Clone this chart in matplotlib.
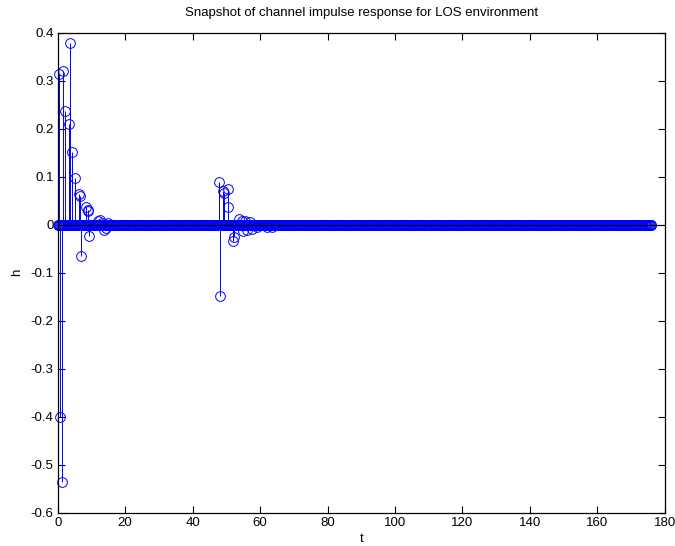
import numpy as np
from matplotlib import pyplot as plt

plt.rcParams['font.family'] = ['Liberation Sans', 'DejaVu Sans']
plt.rcParams['axes.unicode_minus'] = False

# sample grid of the snapshot (all taps zero except the ones listed below)
t_grid = np.arange(0, 176.25, 0.25)
h_grid = np.zeros_like(t_grid)

# non-zero taps
tap_t = [0.4, 0.7, 1.2, 1.6, 2.2, 3.4, 3.6, 4.2, 5.0, 6.3, 6.6, 6.8,
         8.3, 8.9, 9.1, 9.3, 12.0, 12.5, 13.0, 13.6, 14.2, 15.0,
         47.9, 48.1, 48.9, 49.2, 50.4, 50.5, 52.1, 52.3, 53.8, 54.5,
         55.0, 55.6, 56.2, 57.0, 57.6, 59.0, 62.0, 63.5]
tap_h = [0.315, -0.400, -0.537, 0.321, 0.236, 0.210, 0.378, 0.152, 0.097, 0.063, 0.060, -0.065,
         0.036, 0.028, 0.031, -0.024, 0.008, 0.010, 0.004, -0.012, -0.006, 0.003,
         0.088, -0.149, 0.070, 0.066, 0.075, 0.037, -0.033, -0.026, 0.011, 0.008,
         -0.014, 0.007, -0.012, 0.006, -0.008, -0.005, -0.005, -0.004]

t = np.concatenate([t_grid, tap_t])
h = np.concatenate([h_grid, tap_h])

fig = plt.figure(figsize=(6.75, 5.46), dpi=100)
ax = fig.add_axes([0.0855, 0.061, 0.8995, 0.879])

markers, stems, base = ax.stem(t, h, linefmt='b-', markerfmt='bo', basefmt='k-')
plt.setp(stems, linewidth=0.7, color=(0, 0, 1))
plt.setp(markers, markersize=7, markerfacecolor='none', markeredgecolor=(0, 0, 1),
         markeredgewidth=0.7, clip_on=False)
base.set_visible(False)
ax.axhline(0, color='black', linewidth=0.8, zorder=5)

ax.set_xlim(0, 180)
ax.set_ylim(-0.6, 0.4)
ax.set_xticks(np.arange(0, 181, 20))
ax.set_yticks(np.round(np.arange(-0.6, 0.41, 0.1), 1))
ax.set_yticklabels(['-0.6', '-0.5', '-0.4', '-0.3', '-0.2', '-0.1', '0',
                    '0.1', '0.2', '0.3', '0.4'])
ax.tick_params(direction='in', top=True, right=True, length=5, width=0.8, labelsize=9.5, pad=3)
for s in ax.spines.values():
    s.set_linewidth(0.9)

ax.set_title('Snapshot of channel impulse response for LOS environment', fontsize=9.5, pad=12)
ax.set_xlabel('t', fontsize=9.5, labelpad=3)
ax.set_ylabel('h', fontsize=9.5, labelpad=5)

fig.savefig('out.png', dpi=100)
